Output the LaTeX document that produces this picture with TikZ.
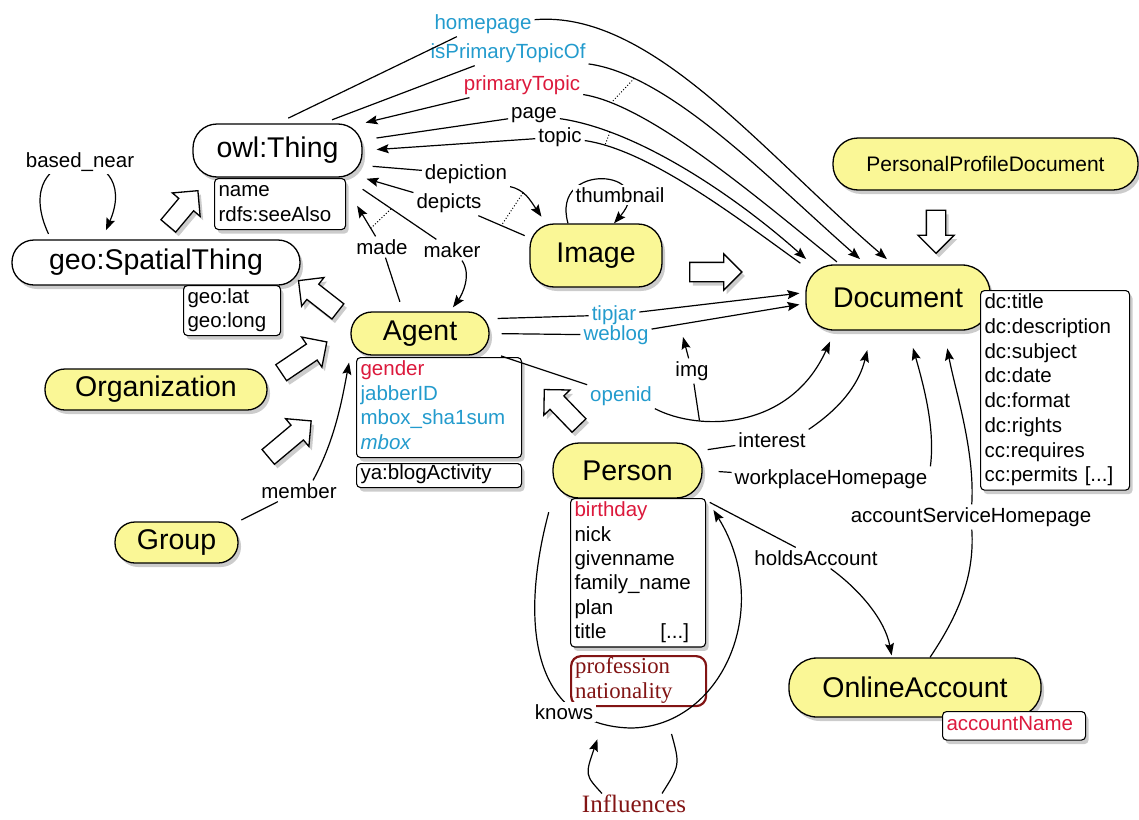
\documentclass[tikz,border=0pt]{standalone}
\usepackage{fontspec}
\setmainfont{Liberation Sans}
\newfontfamily\serifface{Liberation Serif}
\usetikzlibrary{arrows.meta,shapes.arrows,shadows}

\definecolor{classfill}{RGB}{250,247,150}
\definecolor{propblue}{RGB}{35,155,205}
\definecolor{propred}{RGB}{220,25,60}
\definecolor{darkred}{RGB}{130,20,20}

\tikzstyle{shade}=[drop shadow={shadow xshift=3pt,shadow yshift=-4pt,opacity=0.4}]
\tikzstyle{cls}=[draw, line width=1.3pt, fill=classfill, inner sep=0pt, shade, font=\fontsize{28.5}{32}\selectfont]
\tikzstyle{wcls}=[cls, fill=white]
\tikzstyle{attrbox}=[draw, line width=1.1pt, fill=white, rounded corners=4pt, anchor=north west, align=left, inner xsep=4pt, inner ysep=1pt, font=\fontsize{20.5}{24.5}\selectfont, execute at begin node=\strut, execute at end node=\strut]
\tikzstyle{attr}=[attrbox, shade]
\tikzstyle{lbl}=[inner sep=2.5pt, font=\fontsize{20.5}{24}\selectfont]
\tikzstyle{inh}=[single arrow, draw, fill=white, line width=1.3pt, inner xsep=0pt, inner ysep=9pt, single arrow head extend=8.5pt, minimum height=50pt, shade]

\begin{document}
\begin{tikzpicture}[x=1pt,y=-1pt,line width=1.2pt,>={Stealth[length=12pt,width=9pt,inset=2pt]}]
	\useasboundingbox (0,0) rectangle (1139,819);

	\node[wcls, rounded corners=24pt, minimum width=169pt, minimum height=53pt] (thing) at (277.5,150.5) {owl:Thing};
	\node[wcls, rounded corners=22pt, minimum width=288pt, minimum height=45pt] (geo) at (156,262.5) {geo:SpatialThing};
	\node[cls, rounded corners=21pt, minimum width=138pt, minimum height=43pt] (agent) at (420,333.5) {Agent};
	\node[cls, rounded corners=20pt, minimum width=222pt, minimum height=41pt] (org) at (156,389.5) {Organization};
	\node[cls, rounded corners=20pt, minimum width=123pt, minimum height=41pt] (group) at (176.5,542.5) {Group};
	\node[cls, rounded corners=24pt, minimum width=132pt, minimum height=63pt] (image) at (596,255.5) {Image};
	\node[cls, rounded corners=25pt, minimum width=305pt, minimum height=52pt, font=\fontsize{21}{24}\selectfont] (ppd) at (985.5,164) {PersonalProfileDocument};
	\node[cls, rounded corners=28pt, minimum width=184pt, minimum height=65pt] (doc) at (898,297.5) {Document};
	\node[cls, rounded corners=26pt, minimum width=149pt, minimum height=55pt] (person) at (627.5,470.5) {Person};
	\node[cls, rounded corners=28pt, minimum width=252pt, minimum height=59pt] (acct) at (915,687.5) {OnlineAccount};

	\node[attr, text width=123pt] (thingattr) at (214,178) {name\\rdfs:seeAlso};
	\node[attr, text width=89pt, font=\fontsize{20.5}{24}\selectfont] (geoattr) at (183,285) {geo:lat\\geo:long};
	\node[attr, text width=157pt] (agentattr) at (356,357) {\textcolor{propred}{gender}\\\textcolor{propblue}{jabberID}\\\textcolor{propblue}{mbox\_sha1sum}\\\textcolor{propblue}{\itshape mbox}};
	\node[attr, text width=157pt, font=\fontsize{20.5}{22}\selectfont] (blogattr) at (356,463) {ya:blogActivity};
	\node[attr, text width=141pt, font=\fontsize{20.5}{24.7}\selectfont] (docattr) at (980,290) {dc:title\\dc:description\\dc:subject\\dc:date\\dc:format\\dc:rights\\cc:requires\\cc:permits [...]};
	\node[attr, text width=127pt, font=\fontsize{20.5}{24.4}\selectfont] (personattr) at (570,498) {\textcolor{propred}{birthday}\\nick\\givenname\\family\_name\\plan\\title\hspace{54pt}[...]};
	\node[attrbox, text width=127pt, draw=darkred, line width=2.2pt, rounded corners=10pt, text=darkred, inner ysep=0pt, font=\serifface\fontsize{22.8}{25}\selectfont] (profattr) at (570,655) {profession\\nationality};
	\node[attr, text width=135pt, inner ysep=2pt, text=propred] (acctattr) at (942,711) {accountName};

	\node[inh, rotate=50, minimum height=46pt] (geo2thing) at (180,212) {};
	\node[inh, rotate=142] (agent2geo) at (322,299) {};
	\node[inh, rotate=34, minimum height=55pt] (org2agent) at (300,360) {};
	\node[inh, rotate=40, minimum height=56pt] (group2agent) at (286,442) {};
	\node[inh, rotate=134] (person2agent) at (565,411) {};
	\node[inh, minimum height=52pt] (image2doc) at (711,272) {};
	\node[inh, rotate=-90, minimum height=43pt] (ppd2doc) at (936,227) {};

	\draw[->] ([xshift=-28pt]image.north) .. controls (550,160) and (660,170) .. ([xshift=18pt]image.north);
	\draw[->, shorten <=6pt, shorten >=10pt] ([xshift=-105pt]geo.north) .. controls (5,140) and (145,140) .. ([xshift=-54pt]geo.north);
	\draw[->, shorten <=14pt, shorten >=14pt] (person.south west) .. controls (520,620) and (530,725) .. (630,728) coordinate[pos=0.9] (kn1) .. controls (720,728) and (775,610) .. (personattr.north east) coordinate[pos=0.15] (kn2);

	\node[lbl, text=propblue] (hp) at (483,24) {homepage};
	\node[lbl, text=propblue] (ipto) at (508,53) {isPrimaryTopicOf};
	\node[lbl, text=propred] (pt) at (522,85) {primaryTopic};
	\node[lbl] (pg) at (534,115) {page};
	\node[lbl] (tp) at (560,137) {topic};
	\node[lbl] (dpn) at (466,174) {depiction};
	\node[lbl] (dps) at (449,203) {depicts};
	\node[lbl] (made) at (382,247) {made};
	\node[lbl] (maker) at (452,250) {maker};
	\node[lbl, fill=white] (thumb) at (620,195) {thumbnail};
	\node[lbl, fill=white] (bn) at (80,162) {based\_near};
	\node[lbl, text=propblue] (tipjar) at (614,315) {tipjar};
	\node[lbl, text=propblue] (weblog) at (616,335) {weblog};
	\node[lbl, text=propblue] (openid) at (621,396) {openid};
	\node[lbl] (img) at (692,371) {img};
	\node[lbl] (interest) at (772,440) {interest};
	\node[lbl] (wph) at (831,479) {workplaceHomepage};
	\node[lbl] (ash) at (971,517) {accountServiceHomepage};
	\node[lbl] (holds) at (816,558) {holdsAccount};
	\node[lbl] (member) at (299,491) {member};
	\node[lbl, fill=white] (knows) at (564,712) {knows};
	\node[text=darkred, inner sep=1pt, font=\serifface\fontsize{25}{28}\selectfont] (infl) at (634,804) {Influences};
	\coordinate (imgtip) at (683,337);

	\draw[shorten <=12pt] (thing.north) -- (hp);
	\draw[->, shorten >=8pt] (hp) .. controls (650,10) and (760,150) .. ([xshift=-5pt]doc.north);
	\draw[shorten <=10pt] (thing.31) -- (ipto);
	\draw[->, shorten >=8pt] (ipto) .. controls (670,75) and (770,180) .. ([xshift=-32pt]doc.north) coordinate[pos=0.18] (iptoc);
	\draw[<-, shorten <=3pt] (thing.north east) -- (pt);
	\draw[shorten >=4pt] (pt) .. controls (650,105) and (760,200) .. ([xshift=-58pt]doc.north) coordinate[pos=0.13] (ptc);
	\draw[dotted, line width=1pt] (iptoc) -- (ptc);
	\draw[shorten <=14pt] (thing.7) -- (pg);
	\draw[->, shorten >=8pt] (pg) .. controls (640,130) and (740,200) .. ([xshift=-86pt]doc.north) coordinate[pos=0.2] (pgc);
	\draw[<-, shorten <=14pt] (thing.east) -- (tp);
	\draw[shorten >=2pt] (tp) .. controls (650,150) and (740,220) .. ([xshift=-96pt]doc.north) coordinate[pos=0.1] (tpc);
	\draw[dotted, line width=1pt] (pgc) -- (tpc);

	\draw[shorten <=10pt] (thing.-10) -- (dpn);
	\draw[->, shorten >=8pt] (dpn.south east) .. controls (525,190) and (530,200) .. ([xshift=-50pt]image.north) coordinate[pos=0.35] (dpnc);
	\draw[shorten <=5pt] (image.165) -- (dps) coordinate[pos=0.55] (dpsc);
	\draw[<-, shorten <=4pt] (thing.south east) -- (dps);
	\draw[dotted, line width=1pt] (dpnc) -- (dpsc);

	\draw[shorten <=10pt] ([xshift=-17pt]agent.north) -- (made);
	\draw[->, shorten >=2pt] (made) -- ([xshift=10pt]thingattr.east) coordinate[pos=0.25] (madec);
	\draw[shorten <=20pt] (thingattr.north east) -- (maker) coordinate[pos=0.5] (makerc);
	\draw[->, shorten >=5pt] ([xshift=10pt]maker.south) .. controls (472,275) and (462,295) .. ([xshift=30pt]agent.north);
	\draw[dotted, line width=1pt] (madec) -- (makerc);

	\draw[shorten <=8pt] (agent.12) -- (tipjar);
	\draw[->, shorten >=6pt] (tipjar) -- ([yshift=5pt]doc.west);
	\draw[shorten <=12pt] (agent.east) -- (weblog);
	\draw[->, shorten >=6pt] (weblog) -- ([yshift=-6pt]doc.west);
	\draw[shorten <=12pt] (agent.-15) -- (openid);
	\draw[->, shorten >=12pt] (openid.south east) .. controls (700,432) and (790,430) .. ([xshift=-63pt]doc.south) coordinate[pos=0.27] (oidc);
	\draw (oidc) -- (img);
	\draw[->] (img) -- (imgtip);

	\draw[shorten <=5pt] (person.15) -- (interest);
	\draw[->, shorten >=20pt] (interest.north east) .. controls (845,405) and (860,380) .. ([xshift=-26pt]doc.south);
	\draw[shorten <=16pt] (person.east) -- (wph);
	\draw[->, shorten >=18pt] (wph.north east) .. controls (935,430) and (925,390) .. ([xshift=10pt]doc.south);
	\draw ([xshift=15pt]acct.north) .. controls (955,620) and (975,580) .. (ash);
	\draw[->, shorten >=18pt] (ash) .. controls (975,450) and (955,390) .. ([xshift=46pt]doc.south);
	\draw[shorten <=8pt] (person.south east) -- (holds);
	\draw[->, shorten >=2pt] (holds) .. controls (860,590) and (885,620) .. ([xshift=-23pt]acct.north);

	\draw[shorten <=3pt] (group.north east) -- (member);
	\draw[->, shorten >=7pt] ([xshift=14pt]member.north) .. controls (335,440) and (342,400) .. (agent.south west);

	\draw[->, shorten >=16pt] ([xshift=-32pt]infl.north) .. controls (585,775) .. (kn1);
	\draw[shorten >=14pt] ([xshift=28pt]infl.north) .. controls (680,765) .. (kn2);
\end{tikzpicture}
\end{document}
